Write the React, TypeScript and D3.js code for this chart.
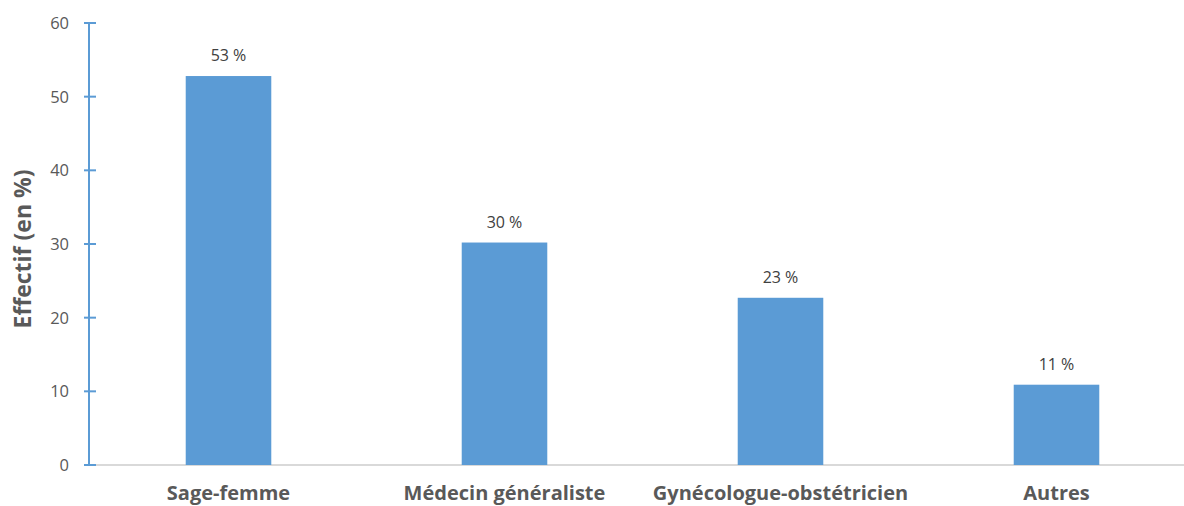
import React from "react";
import * as d3 from "d3";

const categories = ["Sage-femme", "Médecin généraliste", "Gynécologue-obstétricien", "Autres"];
const values = [52.8, 30.2, 22.7, 10.9];
const valueLabels = ["53 %", "30 %", "23 %", "11 %"];
const yTicks = [0, 10, 20, 30, 40, 50, 60];

const W = 1184;
const H = 506;
const FONT = "'Open Sans', 'Liberation Sans', sans-serif";

export default function App() {
  const x = d3.scaleBand<string>().domain(categories).range([90.5, 1194.5]).paddingInner(0.69).paddingOuter(0.345);
  const y = d3.scaleLinear().domain([0, 60]).range([465, 23]);
  const axisX = 89;
  return (
    <svg width={W} height={H} style={{ position: "absolute", left: 0, top: 0 }} fontFamily={FONT}>
      <line x1={axisX} x2={W} y1={y(0)} y2={y(0)} stroke="#d9d9d9" strokeWidth={2} />
      {categories.map((c, i) => (
        <g key={c}>
          <rect x={x(c)} y={y(values[i])} width={x.bandwidth()} height={y(0) - y(values[i])} fill="#5b9bd5" />
          <text x={(x(c) as number) + x.bandwidth() / 2} y={y(values[i]) - 15} textAnchor="middle" fontSize={16} fill="#404040">
            {valueLabels[i]}
          </text>
          <text x={(x(c) as number) + x.bandwidth() / 2} y={500} textAnchor="middle" fontSize={20} fontWeight="bold" fill="#595959">
            {c}
          </text>
        </g>
      ))}
      <line x1={axisX} x2={axisX} y1={y(60)} y2={y(0)} stroke="#5b9bd5" strokeWidth={2} />
      {yTicks.map((t) => (
        <g key={t}>
          <line x1={axisX - 5} x2={axisX + 7} y1={y(t)} y2={y(t)} stroke="#5b9bd5" strokeWidth={2} />
          <text x={69} y={y(t) + 6} textAnchor="end" fontSize={16.5} fill="#595959">
            {t}
          </text>
        </g>
      ))}
      <text transform={`translate(31,249) rotate(-90)`} textAnchor="middle" fontSize={23} fontWeight="bold" fill="#595959">
        Effectif (en %)
      </text>
    </svg>
  );
}
